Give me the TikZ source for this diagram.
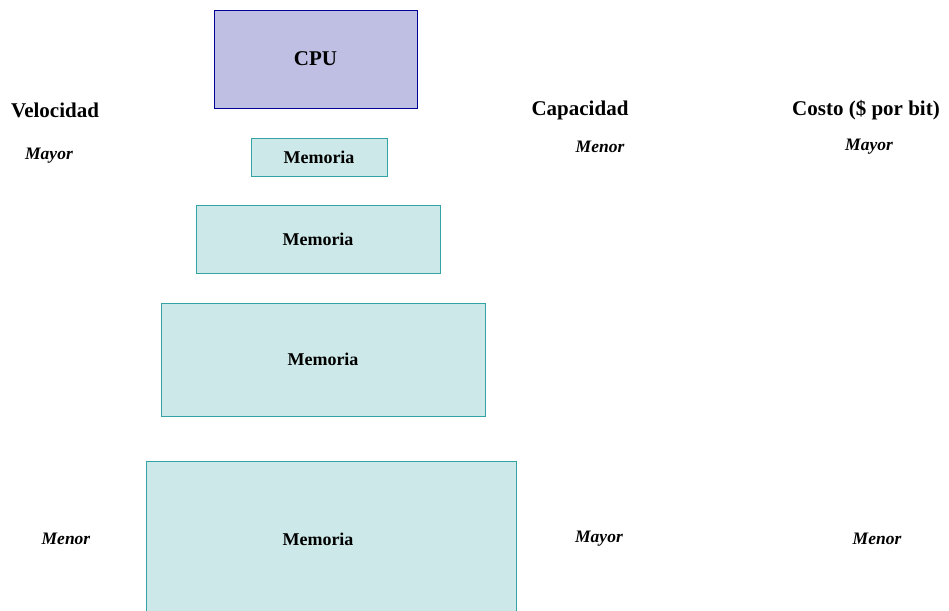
\documentclass[tikz,border=0pt]{standalone}
\usepackage{fontspec}
\setmainfont{Liberation Serif}

\tikzset{
  cpubox/.style={draw=blue!60!black, fill=cpufill, line width=0.8pt,
    font=\fontsize{21}{24}\selectfont\bfseries},
  membox/.style={draw=memline, fill=memfill, line width=0.9pt,
    font=\fontsize{18}{21}\selectfont\bfseries},
  head/.style={font=\fontsize{21}{24}\selectfont\bfseries},
  grade/.style={font=\fontsize{17.5}{20}\selectfont\bfseries\itshape},
}
\definecolor{cpufill}{RGB}{191,191,227}
\definecolor{memfill}{RGB}{204,232,232}
\definecolor{memline}{RGB}{51,163,163}

\begin{document}
\begin{tikzpicture}[x=1pt, y=-1pt]

\useasboundingbox (0,0) rectangle (949,610); %% page

%% the processor
\node[cpubox, minimum width=203pt, minimum height=98pt] (cpu) at (315.5,59) {CPU};

%% the memory levels, from fast to large
\node[membox, minimum width=136pt, minimum height=38pt]  (mem1) at (319,157) {Memoria};
\node[membox, minimum width=244pt, minimum height=68pt]  (mem2) at (318,239) {Memoria};
\node[membox, minimum width=324pt, minimum height=113pt] (mem3) at (323,359.5) {Memoria};
\draw[draw=memline, fill=memfill, line width=0.9pt] (146,461) rectangle (516,625);
\node[font=\fontsize{18}{21}\selectfont\bfseries] (mem4) at (318,539) {Memoria};

%% column heads
\node[head] (vel)   at (55,110)  {Velocidad};
\node[head] (cap)   at (580,110) {Capacidad};
\node[head] (costo) at (866,110) {Costo (\$ por bit)};

%% top of the scale
\node[grade] (velhi)   at (49,156)  {Mayor};
\node[grade] (caplo)   at (600,147) {Menor};
\node[grade] (costohi) at (869,147) {Mayor};

%% bottom of the scale
\node[grade] (vello)   at (66,539)  {Menor};
\node[grade] (caphi)   at (599,539) {Mayor};
\node[grade] (costolo) at (877,539) {Menor};

\end{tikzpicture}
\end{document}
